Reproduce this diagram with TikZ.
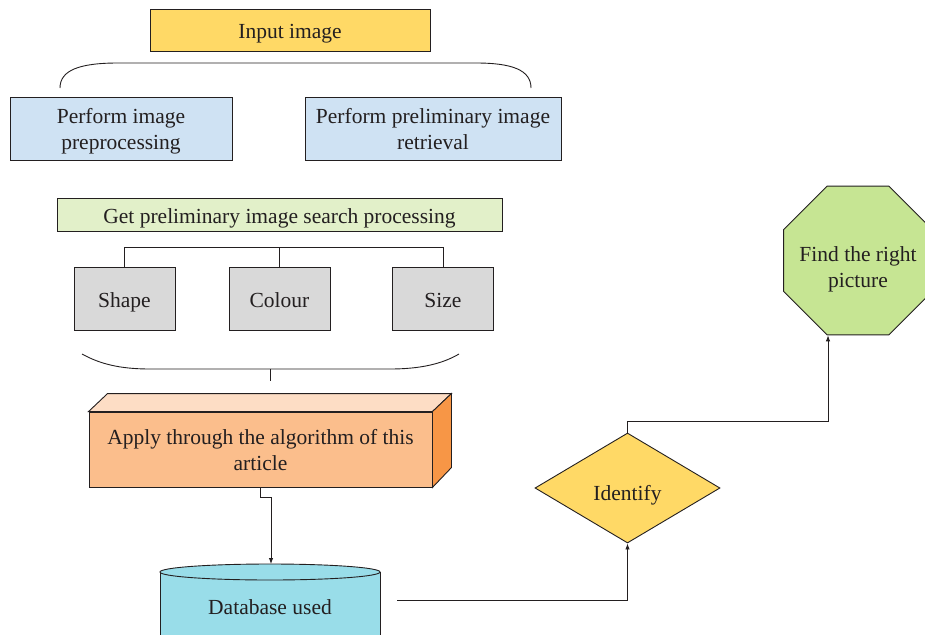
\documentclass[tikz,border=0pt]{standalone}
\usepackage{fontspec}
\setmainfont{Liberation Serif}
\usetikzlibrary{shapes.geometric,arrows.meta}

\definecolor{ink}{HTML}{231F20}
\definecolor{inyellow}{HTML}{FFD966}
\definecolor{stepblue}{HTML}{CFE2F3}
\definecolor{stepgreen}{HTML}{E2F0C9}
\definecolor{featgray}{HTML}{D9D9D9}
\definecolor{algfront}{HTML}{FBBE8C}
\definecolor{algtop}{HTML}{FDDDC5}
\definecolor{algside}{HTML}{F79646}
\definecolor{dbcyan}{HTML}{99DDE9}
\definecolor{octgreen}{HTML}{C6E593}

\tikzset{
  box/.style={draw=ink, rectangle, inner sep=0pt, align=center, text=ink},
  oneline/.style={text height=21pt, text depth=4pt},
  twolines/.style={text height=47pt, text depth=4.5pt},
  link/.style={draw=ink, line width=0.9pt},
  arr/.style={link, -{Latex[length=6pt,width=4.5pt]}},
}

\begin{document}
\begin{tikzpicture}[x=1pt, y=-1pt, line width=0.9pt,
  font=\fontsize{21.5}{26}\selectfont]
\useasboundingbox (0,0) rectangle (925,634);

% input and the two preparation steps
\node[box, oneline, fill=inyellow, minimum width=280pt, minimum height=42pt] (in) at (290,30) {Input image};
\node[box, twolines, fill=stepblue, minimum width=222pt, minimum height=63pt] (pre) at (121,128.5) {Perform image\\preprocessing};
\node[box, twolines, fill=stepblue, minimum width=256pt, minimum height=63pt] (ret) at (433,128.5) {Perform preliminary image\\retrieval};
\draw[link] (60,88) .. controls (60,70) and (80,63) .. (118,63) -- (476,63)
  .. controls (512,63) and (531,70) .. (531,88);

% preliminary search and its three features
\node[box, oneline, fill=stepgreen, minimum width=445pt, minimum height=33pt] (get) at (279.5,214.5) {Get preliminary image search processing};
\node[box, oneline, fill=featgray, minimum width=101pt, minimum height=63pt] (shape) at (124.5,298.5) {Shape};
\node[box, oneline, fill=featgray, minimum width=101pt, minimum height=63pt] (colour) at (279.5,298.5) {Colour};
\node[box, oneline, fill=featgray, minimum width=101pt, minimum height=63pt] (size) at (443,298.5) {Size};
\draw[link] (shape.north) -- ++(0,-19) -| (size.north);
\draw[link] (colour.north) -- ++(0,-19);
\draw[link] (82,354) .. controls (100,364) and (120,369) .. (150,369) -- (390,369)
  .. controls (420,369) and (442,364) .. (459,354);
\draw[link] (270,369) -- (270,381);

% algorithm block drawn as a 3D box
\node[box, twolines, fill=algfront, minimum width=343pt, minimum height=75pt] (alg) at (260.5,449.5)
  {Apply through the algorithm of this\\article};
\draw[link, fill=algtop] (alg.north west) -- ++(19,-18) -- ([shift={(19,-18)}]alg.north east) -- (alg.north east) -- cycle;
\draw[link, fill=algside] (alg.north east) -- ++(19,-18) -- ++(0,74) -- (alg.south east) -- cycle;

% database cylinder
\draw[link, fill=dbcyan] (160,572) -- (160,645) -- (380,645) -- (380,572);
\draw[link, fill=dbcyan] (270,572) ellipse (110pt and 8pt);
\node[text=ink] (db) at (270,607) {Database used};
\coordinate (dbtop) at (271,564);
\coordinate (dbout) at (397,600);

% decision and result
\node[draw=ink, shape=diamond, fill=inyellow, minimum width=185pt, minimum height=110pt, inner sep=0pt,
  label={[text=ink, yshift=-7pt]center:Identify}] (idf) at (627.5,488) {};
\node[draw=ink, regular polygon, regular polygon sides=8, fill=octgreen, minimum size=161pt, inner sep=0pt,
  label={[text=ink, align=center, yshift=-9pt]center:Find the right\\picture}] (oct) at (858,260.5) {};

% connectors
\draw[arr] (alg.south) -- ++(0,10) -| (dbtop);
\draw[arr] (dbout) -| (idf.south);
\draw[arr] (idf.north) -- ++(0,-11) -| ([xshift=-30pt]oct.south);
\end{tikzpicture}
\end{document}
